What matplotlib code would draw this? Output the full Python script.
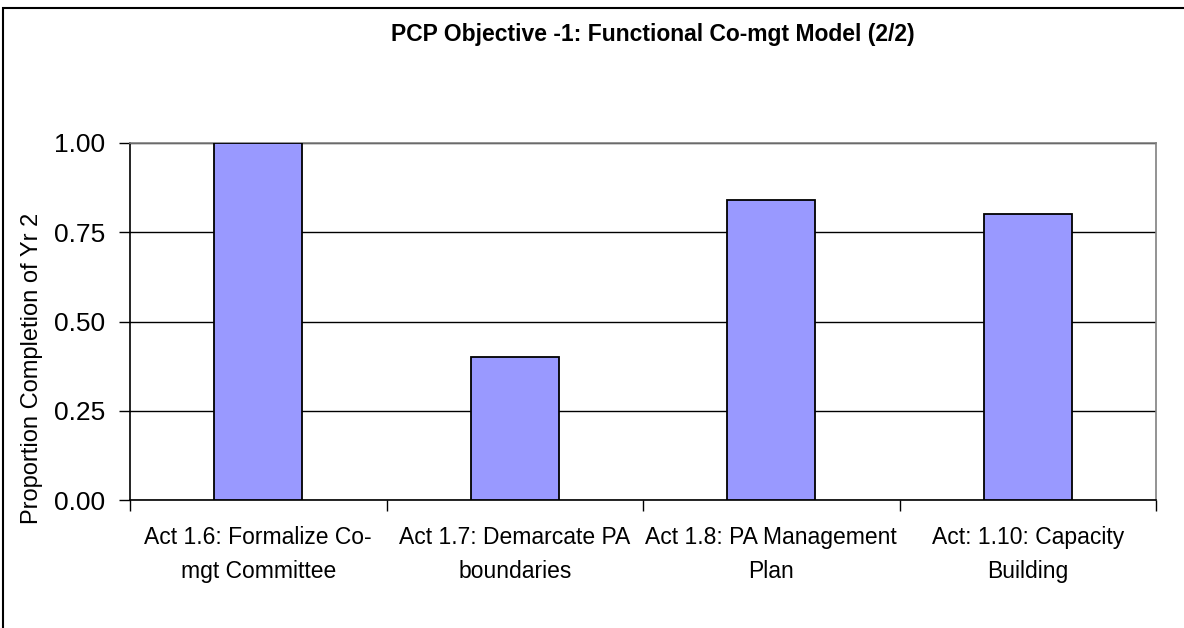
import matplotlib
matplotlib.use("Agg")
import matplotlib.pyplot as plt
from matplotlib.patches import Rectangle
from matplotlib.ticker import FixedLocator, NullFormatter

categories = [
    "Act 1.6: Formalize Co-\nmgt Committee",
    "Act 1.7: Demarcate PA\nboundaries",
    "Act 1.8: PA Management\nPlan",
    "Act: 1.10: Capacity\nBuilding",
]
completion = [1.00, 0.40, 0.84, 0.80]
y_ticks = [0.00, 0.25, 0.50, 0.75, 1.00]

plt.rcParams['font.family'] = ['Liberation Sans', 'DejaVu Sans']

fig = plt.figure(figsize=(11.84, 6.28), dpi=100)
ax = fig.add_axes([130 / 1184, 128 / 628, 1026 / 1184, 357 / 628])

x = list(range(len(categories)))
ax.bar(x, completion, width=0.343, color='#9999FF', edgecolor='black', linewidth=1.3, zorder=3)

ax.set_xlim(-0.5, len(categories) - 0.5)
ax.set_ylim(0, 1.0)
ax.set_yticks(y_ticks)
ax.set_yticklabels([f'{v:.2f}' for v in y_ticks], fontsize=19)
ax.yaxis.grid(True, color='black', linewidth=1.0, zorder=0)

ax.set_xticks(x)
ax.set_xticklabels(categories, fontsize=16.5, linespacing=1.6)
ax.tick_params(axis='x', which='major', length=0, pad=19)
ax.xaxis.set_minor_locator(FixedLocator([i - 0.5 for i in range(len(categories) + 1)]))
ax.xaxis.set_minor_formatter(NullFormatter())
ax.tick_params(axis='x', which='minor', length=8, width=1, direction='out')
ax.tick_params(axis='y', length=8, width=1, direction='out', pad=10)

for side in ['left', 'bottom']:
    ax.spines[side].set_color('black')
    ax.spines[side].set_linewidth(1.2)
for side in ['top', 'right']:
    ax.spines[side].set_color('#808080')
    ax.spines[side].set_linewidth(1.2)

fig.text(32 / 1184, 1 - 368 / 628, 'Proportion Completion of Yr 2', rotation=90,
         ha='center', va='center', fontsize=17)

fig.text(653 / 1184, 1 - 41 / 628, 'PCP Objective -1: Functional Co-mgt Model (2/2)',
         ha='center', va='baseline', fontsize=16.5, fontweight='bold')

# outer chart frame (cut off at right and bottom)
fig.patches.append(Rectangle((3 / 1184, -0.5), 1.5, 0.5 + 1 - 8 / 628, transform=fig.transFigure,
                             fill=False, edgecolor='black', linewidth=1.5))

fig.savefig('out.png', dpi=100)
